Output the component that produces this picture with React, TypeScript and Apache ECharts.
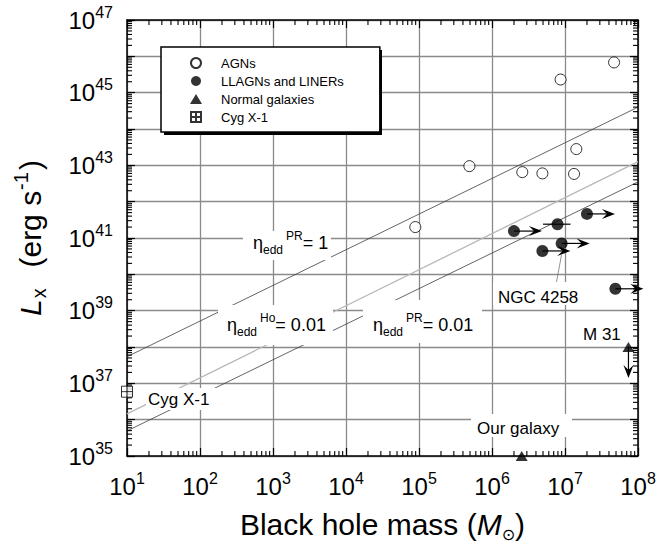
import React, { useEffect, useRef } from 'react';
import * as echarts from 'echarts';

const FONT = '"Liberation Sans", Arial, Helvetica, sans-serif';

// ---- axes ----
const X_MIN = 10;
const X_MAX = 1e8;
const Y_MIN = 1e35;
const Y_MAX = 1e47;
const xDecadeExps = [1, 2, 3, 4, 5, 6, 7, 8];
const yDecadeExps = [35, 36, 37, 38, 39, 40, 41, 42, 43, 44, 45, 46, 47];
const yLabelExps = [35, 37, 39, 41, 43, 45, 47];
const minorMultipliers = [2, 3, 4, 5, 6, 7, 8, 9];

// ---- data ----
// AGNs (open circles)
const agnMass = [4.7e7, 8.7e6, 1.43e7, 4.9e5, 2.6e6, 4.9e6, 1.33e7, 8.9e4];
const agnLx = [6.8e45, 2.3e45, 2.8e43, 9.5e42, 6.5e42, 6.0e42, 5.8e42, 2.0e41];

// LLAGNs and LINERs (filled circles)
const llagnMass = [2.0e6, 7.9e6, 2.0e7, 9.0e6, 4.9e6, 4.9e7];
const llagnLx = [1.55e41, 2.4e41, 4.6e41, 7.1e40, 4.4e40, 4.0e39];
const llagnLowerLimit = [true, false, true, true, true, true];
const llagnErrLow = [null, 5.0e6, null, null, null, null];
const llagnErrHigh = [null, 1.19e7, null, null, null, null];

// Normal galaxies (triangles): M31, Our galaxy
const galMass = [7.4e7, 2.55e6];
const galLx = [1.0e38, 1.0e35];
const galUpperLimit = [true, false];

// Cyg X-1
const cygMass = [10];
const cygLx = [5.9e36];

// Eddington-ratio lines
const lineMass = [10, 1e8];
const eddPR1Lx = [5.4e37, 4.0e44];
const eddHo001Lx = [1.45e36, 1.26e43];
const eddPR001Lx = [4.9e35, 3.5e42];

const legendNames = ['AGNs', 'LLAGNs and LINERs', 'Normal galaxies', 'Cyg X-1'];

// ---- helpers ----
const dec = (e: number) => Number('1e' + e);
const zip = (a: number[], b: number[]) => a.map((v, i) => [v, b[i]]);

const labelRich = {
  b: { fontSize: 24, lineHeight: 32, fontFamily: FONT, color: '#000' },
  s: { fontSize: 16, lineHeight: 16, verticalAlign: 'top', fontFamily: FONT, color: '#000' },
};
const powLabel = (v: number) => `{b|10}{s|${Math.round(Math.log10(v))}}`;

const etaRich = {
  e: { fontSize: 18, lineHeight: 26, fontFamily: FONT, color: '#000' },
  sub: { fontSize: 12, lineHeight: 12, verticalAlign: 'bottom', fontFamily: FONT, color: '#000' },
  sup: { fontSize: 12, lineHeight: 12, verticalAlign: 'top', fontFamily: FONT, color: '#000', padding: [0, 0, 0, 3] },
};

const tickLine = { color: '#000', width: 1.2 };

function makeXAxis(position: 'bottom' | 'top', main: boolean) {
  return {
    type: 'log',
    logBase: 10,
    min: X_MIN,
    max: X_MAX,
    position,
    axisLine: { show: true, onZero: false, lineStyle: { color: '#000', width: 1.5 } },
    axisTick: { show: true, inside: true, length: 8, customValues: xDecadeExps.map(dec), lineStyle: tickLine },
    axisLabel: main
      ? { show: true, margin: 14, customValues: xDecadeExps.map(dec), formatter: powLabel, rich: labelRich }
      : { show: false },
    splitLine: main ? { show: true, lineStyle: { color: '#8a8a8a', width: 1.3 } } : { show: false },
    minorTick: { show: false },
    minorSplitLine: { show: false },
    ...(main
      ? {
          name: '{n|Black hole mass (}{i|M}{sub|⊙}{n|)}',
          nameLocation: 'middle',
          nameGap: 50,
          nameTextStyle: {
            rich: {
              n: { fontSize: 30, lineHeight: 36, fontFamily: FONT, color: '#000' },
              i: { fontSize: 30, lineHeight: 36, fontFamily: FONT, fontStyle: 'italic', color: '#000' },
              sub: { fontSize: 16, lineHeight: 16, verticalAlign: 'bottom', fontFamily: '"DejaVu Sans", sans-serif', color: '#000' },
            },
          },
        }
      : {}),
  };
}

function makeYAxis(position: 'left' | 'right', main: boolean) {
  return {
    type: 'log',
    logBase: 10,
    min: Y_MIN,
    max: Y_MAX,
    position,
    axisLine: { show: true, onZero: false, lineStyle: { color: '#000', width: 1.5 } },
    axisTick: { show: true, inside: true, length: 8, customValues: yDecadeExps.map(dec), lineStyle: tickLine },
    axisLabel: main
      ? { show: true, margin: 14, customValues: yLabelExps.map(dec), formatter: powLabel, rich: labelRich }
      : { show: false },
    splitLine: main ? { show: true, lineStyle: { color: '#8a8a8a', width: 1.3 } } : { show: false },
    minorTick: { show: false },
    minorSplitLine: { show: false },
    ...(main
      ? {
          name: '{i|L}{sub|x}{n|  (erg s}{sup|-1}{n|)}',
          nameLocation: 'middle',
          nameGap: 78,
          nameRotate: 90,
          nameTextStyle: {
            rich: {
              i: { fontSize: 30, lineHeight: 38, fontFamily: FONT, fontStyle: 'italic', color: '#000' },
              n: { fontSize: 30, lineHeight: 38, fontFamily: FONT, color: '#000' },
              sub: { fontSize: 20, lineHeight: 20, verticalAlign: 'bottom', fontFamily: FONT, color: '#000', padding: [0, 4, 0, 1] },
              sup: { fontSize: 20, lineHeight: 20, verticalAlign: 'top', fontFamily: FONT, color: '#000', padding: [0, 2, 0, 1] },
            },
          },
        }
      : {}),
  };
}

function arrowHead(tx: number, ty: number, dir: 'right' | 'down') {
  if (dir === 'right') {
    return { type: 'polygon', shape: { points: [[tx, ty], [tx - 13, ty - 5], [tx - 8, ty], [tx - 13, ty + 5]] }, style: { fill: '#000' } };
  }
  return { type: 'polygon', shape: { points: [[tx, ty], [tx - 5, ty - 13], [tx, ty - 8], [tx + 5, ty - 13]] }, style: { fill: '#000' } };
}

function buildOption() {
  const minorX: number[][] = [];
  xDecadeExps.slice(0, -1).forEach((e) => minorMultipliers.forEach((m) => minorX.push([m * dec(e), Y_MIN])));
  const minorY: number[][] = [];
  yDecadeExps.slice(0, -1).forEach((e) => minorMultipliers.forEach((m) => minorY.push([X_MIN, m * dec(e)])));

  const arrowRight = llagnMass.map((m, i) => [m, llagnLx[i]]).filter((_, i) => llagnLowerLimit[i]);
  const arrowDown = galMass.map((m, i) => [m, galLx[i]]).filter((_, i) => galUpperLimit[i]);
  const errBars = llagnMass
    .map((_, i) => [llagnErrLow[i], llagnErrHigh[i], llagnLx[i]])
    .filter((d) => d[0] != null) as number[][];

  const lineSeries = (lx: number[], color: string, width: number) => ({
    type: 'line',
    data: zip(lineMass, lx),
    symbol: 'none',
    silent: true,
    z: 2,
    lineStyle: { color, width },
  });

  const txt = (x: number, y: number, text: string, extra: any = {}) => ({
    type: 'text',
    x,
    y,
    z: 8,
    silent: true,
    style: {
      text,
      fill: '#000',
      font: `17px ${FONT}`,
      align: 'left',
      verticalAlign: 'middle',
      textAlign: 'left',
      textVerticalAlign: 'middle',
      rich: etaRich,
      ...extra,
    },
  });
  const mask = (x: number, y: number, w: number, h: number) => ({
    type: 'rect',
    z: 7,
    silent: true,
    shape: { x, y, width: w, height: h },
    style: { fill: '#fff' },
  });

  return {
    animation: false,
    backgroundColor: '#fff',
    grid: { left: 127, right: 30, top: 20, bottom: 88, containLabel: false, outerBoundsMode: 'none' },
    xAxis: [makeXAxis('bottom', true), makeXAxis('top', false)],
    yAxis: [makeYAxis('left', true), makeYAxis('right', false)],
    legend: {
      data: legendNames,
      orient: 'vertical',
      left: 161,
      top: 47,
      padding: [9, 36, 8, 29],
      itemGap: 4,
      itemWidth: 40,
      itemHeight: 10,
      symbolKeepAspect: true,
      backgroundColor: '#fff',
      borderColor: '#000',
      borderWidth: 1.5,
      borderRadius: 0,
      selectedMode: false,
      z: 5,
      textStyle: { fontFamily: FONT, fontSize: 13, color: '#000', lineHeight: 14 },
    },
    series: [
      lineSeries(eddPR1Lx, '#3c3c3c', 0.8),
      lineSeries(eddHo001Lx, '#b8b8b8', 1.3),
      lineSeries(eddPR001Lx, '#3c3c3c', 0.8),
      {
        name: 'AGNs',
        type: 'scatter',
        data: zip(agnMass, agnLx),
        symbol: 'circle',
        symbolSize: 11,
        clip: false,
        z: 10,
        itemStyle: { color: '#fff', borderColor: '#000', borderWidth: 1 },
      },
      {
        name: 'LLAGNs and LINERs',
        type: 'scatter',
        data: zip(llagnMass, llagnLx),
        symbol: 'circle',
        symbolSize: 12,
        clip: false,
        z: 10,
        itemStyle: { color: '#000' },
      },
      {
        name: 'Normal galaxies',
        type: 'scatter',
        data: zip(galMass, galLx),
        symbol: 'path://M6,0L12,10H0Z',
        symbolSize: [12, 10],
        clip: false,
        z: 10,
        itemStyle: { color: '#000' },
      },
      {
        name: 'Cyg X-1',
        type: 'scatter',
        data: zip(cygMass, cygLx),
        symbol: 'path://M0,0H10V10H0Z M5,0V10 M0,5H10',
        symbolSize: 11,
        clip: false,
        z: 10,
        itemStyle: { color: '#fff', borderColor: '#000', borderWidth: 1 },
      },
      {
        type: 'custom',
        clip: false,
        silent: true,
        z: 9,
        data: arrowRight,
        encode: { x: 0, y: 1 },
        renderItem: (params: any, api: any) => {
          const p = api.coord([api.value(0), api.value(1)]);
          const tx = p[0] + 28;
          return {
            type: 'group',
            children: [
              { type: 'line', shape: { x1: p[0], y1: p[1], x2: tx - 6, y2: p[1] }, style: { stroke: '#000', lineWidth: 1.2 } },
              arrowHead(tx, p[1], 'right'),
            ],
          };
        },
      },
      {
        type: 'custom',
        clip: false,
        silent: true,
        z: 9,
        data: arrowDown,
        encode: { x: 0, y: 1 },
        renderItem: (params: any, api: any) => {
          const p = api.coord([api.value(0), api.value(1)]);
          const ty = p[1] + 31;
          return {
            type: 'group',
            children: [
              { type: 'line', shape: { x1: p[0], y1: p[1], x2: p[0], y2: ty - 6 }, style: { stroke: '#000', lineWidth: 1.2 } },
              arrowHead(p[0], ty, 'down'),
            ],
          };
        },
      },
      {
        type: 'custom',
        clip: false,
        silent: true,
        z: 9,
        data: errBars,
        encode: { x: [0, 1], y: 2 },
        renderItem: (params: any, api: any) => {
          const a = api.coord([api.value(0), api.value(2)]);
          const b = api.coord([api.value(1), api.value(2)]);
          return { type: 'line', shape: { x1: a[0], y1: a[1], x2: b[0], y2: b[1] }, style: { stroke: '#000', lineWidth: 1.2 } };
        },
      },
      {
        type: 'custom',
        clip: false,
        silent: true,
        z: 3,
        data: minorX,
        encode: { x: 0, y: 1 },
        renderItem: (params: any, api: any) => {
          const b = api.coord([api.value(0), Y_MIN]);
          const t = api.coord([api.value(0), Y_MAX]);
          return {
            type: 'group',
            children: [
              { type: 'line', shape: { x1: b[0], y1: b[1], x2: b[0], y2: b[1] - 5 }, style: { stroke: '#000', lineWidth: 1.1 } },
              { type: 'line', shape: { x1: t[0], y1: t[1], x2: t[0], y2: t[1] + 5 }, style: { stroke: '#000', lineWidth: 1.1 } },
            ],
          };
        },
      },
      {
        type: 'custom',
        clip: false,
        silent: true,
        z: 3,
        data: minorY,
        encode: { x: 0, y: 1 },
        renderItem: (params: any, api: any) => {
          const l = api.coord([X_MIN, api.value(1)]);
          const r = api.coord([X_MAX, api.value(1)]);
          return {
            type: 'group',
            children: [
              { type: 'line', shape: { x1: l[0], y1: l[1], x2: l[0] + 5, y2: l[1] }, style: { stroke: '#000', lineWidth: 1.1 } },
              { type: 'line', shape: { x1: r[0], y1: r[1], x2: r[0] - 5, y2: r[1] }, style: { stroke: '#000', lineWidth: 1.1 } },
            ],
          };
        },
      },
    ],
    graphic: [
      // legend drop shadow
      { type: 'rect', z: 4, silent: true, shape: { x: 164, y: 50, width: 218, height: 85 }, style: { fill: '#000' } },
      // white boxes behind annotations
      mask(243, 231, 88, 29),
      mask(218, 305, 115, 40),
      mask(363, 300, 119, 43),
      mask(493, 282, 95, 23),
      mask(471, 414, 101, 23),
      mask(146, 388, 74, 22),
      txt(253, 243, '{e|η}{sub|edd}{sup|PR}{e|= 1}'),
      txt(227, 325, '{e|η}{sub|edd}{sup|Ho}{e|= 0.01}'),
      txt(373, 325, '{e|η}{sub|edd}{sup|PR}{e|= 0.01}'),
      txt(498, 297, 'NGC 4258', { rich: undefined }),
      txt(583, 334, 'M 31', { rich: undefined }),
      txt(477, 428, 'Our galaxy', { rich: undefined }),
      txt(148, 399, 'Cyg X-1', { rich: undefined }),
      { type: 'line', z: 8, silent: true, shape: { x1: 556.5, y1: 282, x2: 561.5, y2: 255 }, style: { stroke: '#777', lineWidth: 0.8 } },
    ],
  };
}

export default function App() {
  const ref = useRef<HTMLDivElement>(null);
  useEffect(() => {
    if (!ref.current) return;
    const chart = echarts.init(ref.current, null, { renderer: 'svg' });
    chart.setOption(buildOption() as any);
    return () => chart.dispose();
  }, []);
  return (
    <div
      ref={ref}
      style={{ position: 'fixed', left: 0, top: 0, width: 668, height: 544, background: '#fff' }}
    />
  );
}
